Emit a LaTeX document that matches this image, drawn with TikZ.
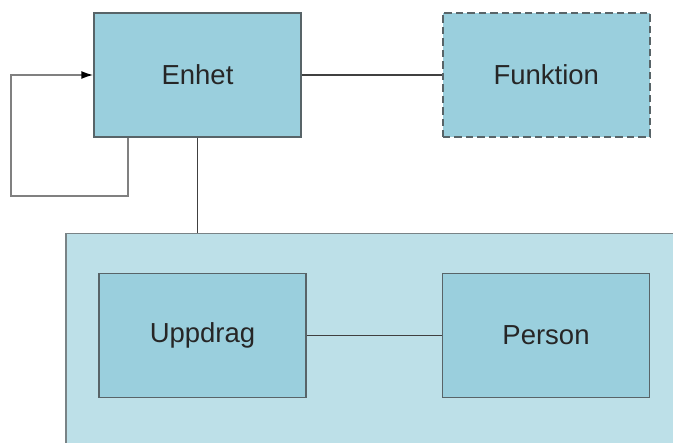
\documentclass[tikz,border=0pt]{standalone}
\usepackage{fontspec}
\setmainfont{Liberation Sans}
\usepackage{xcolor}
\usepackage{tikz}
\usetikzlibrary{arrows.meta, positioning, calc}
\definecolor{boxfill}{RGB}{154,207,221}
\definecolor{grpfill}{RGB}{189,224,232}
\definecolor{boxline}{RGB}{88,100,104}
\tikzset{
  ent/.style={rectangle, draw=boxline, line width=1.5pt, fill=boxfill,
              minimum width=207pt, minimum height=124pt,
              font=\fontsize{27.5}{32}\selectfont, text=black!85},
  fnc/.style={ent, line width=2pt, dash pattern=on 7.5pt off 4pt},
  grp/.style={rectangle, draw=boxline!80, line width=1.5pt, fill=grpfill,
              minimum width=640pt, minimum height=240pt, anchor=north west},
  lnk/.style={line width=1.3pt, draw=black!75},
  self/.style={-{Latex[length=12pt,width=8pt,black]}, line width=1.6pt, draw=black!50},
}
\begin{document}
\begin{tikzpicture}[x=1pt, y=-1pt, node distance=140pt]
  \useasboundingbox (0,0) rectangle (673,443);
  \clip (0,0) rectangle (673,443);
  \node[grp] (G) at (65,233) {};
  \node[ent] (Enhet) at (197.5,75) {Enhet};
  \node[fnc, right=of Enhet] (Funktion) {Funktion};
  \node[ent] (Uppdrag) at (202.5,335.5) {Uppdrag};
  \node[ent, right=135pt of Uppdrag] (Person) {Person};
  \draw[lnk] (Enhet) -- (Funktion);
  \draw[lnk] (Enhet.south) -- (Enhet.south |- G.north);
  \draw[lnk] (Uppdrag) -- (Person);
  % loop back into Enhet
  \coordinate (lp) at (11,196);
  \draw[self] ([xshift=35pt]Enhet.south west) |- (lp) |- (Enhet.west);
\end{tikzpicture}
\end{document}
